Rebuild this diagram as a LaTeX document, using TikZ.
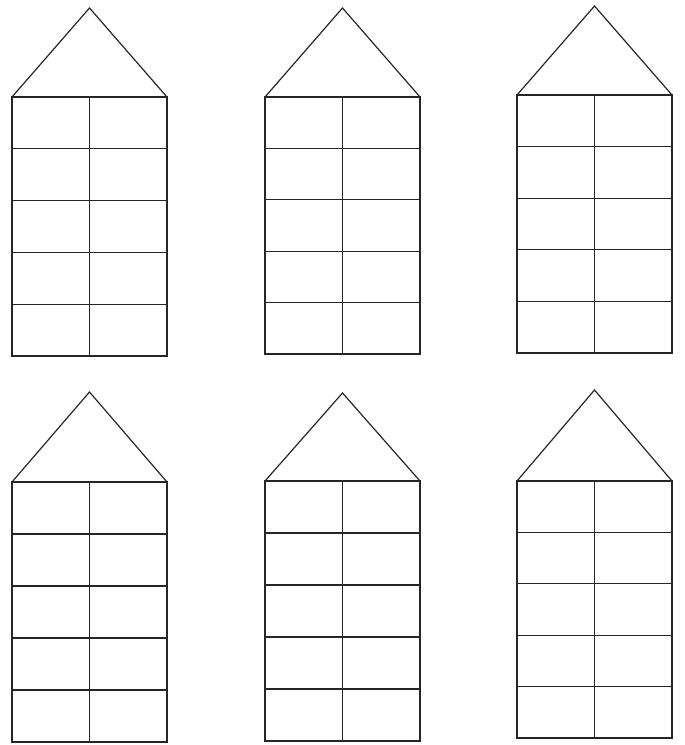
\documentclass[tikz,border=0pt]{standalone}
\usepackage{tikz}
\usetikzlibrary{calc}
\tikzset{
  wall/.style={draw=black!85,line width=1.2pt},
  roof/.style={draw=black!85,line width=1.2pt,line join=miter},
}

\begin{document}
\begin{tikzpicture}[x=1pt,y=-1pt]
  \useasboundingbox (0,0) rectangle (685,745);
  % houses: left x / apex y / eaves y / floor y
  \foreach \hx/\hapex/\heave/\hfloor in {12/8/97/356, 265/8/97/354, 517/6/95/353,
                                         12/392/482/742, 265/393/481/741, 517/390/481/738} {
    \draw[roof] (\hx,\heave) -- (\hx+77.5,\hapex) -- (\hx+155,\heave);
    \draw[wall] (\hx,\heave) rectangle (\hx+155,\hfloor);
    \draw[wall] (\hx+77.5,\heave) -- (\hx+77.5,\hfloor);
    \foreach \k in {1,...,4} {
      \draw[wall] (\hx,{\heave+\k*(\hfloor-\heave)/5}) -- (\hx+155,{\heave+\k*(\hfloor-\heave)/5});
    }
  }
\end{tikzpicture}
\end{document}
